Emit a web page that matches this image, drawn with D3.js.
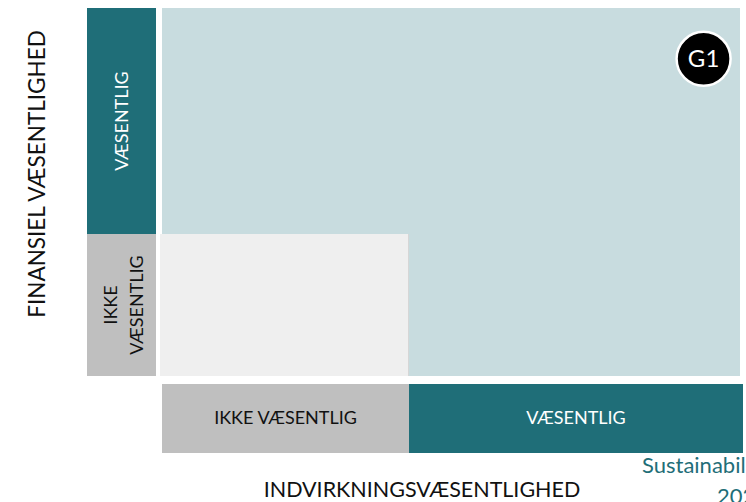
<!DOCTYPE html>
<html>
<head>
<meta charset="utf-8">
<script src="https://cdn.jsdelivr.net/npm/d3@7"></script>
<style>
  body { margin: 0; background: #fff; overflow: hidden; }
  svg { display: block; font-family: Lato, "Open Sans", sans-serif; }
</style>
</head>
<body>
<script>
// Double materiality matrix - D3.js

const levels = ["IKKE VÆSENTLIG", "VÆSENTLIG"];
const levelLines = [["IKKE", "VÆSENTLIG"], ["VÆSENTLIG"]];
const cellFill = [["#efefef", "#c8dcdf"], ["#c8dcdf", "#c8dcdf"]]; // [impact][financial]
const topics = ["G1"];
const impactScore = [1.89];
const financialScore = [1.775];

const width = 746;
const height = 502;

const svg = d3
  .select("body")
  .append("svg")
  .attr("width", width)
  .attr("height", height);

const colors = { teal: "#1f6e78", grey: "#bfbfbf" };

// piecewise scales: 0..1 = ikke væsentlig, 1..2 = væsentlig
const x = d3.scaleLinear().domain([0, 1, 2]).range([160, 409, 740]);
const y = d3.scaleLinear().domain([0, 1, 2]).range([376, 234, 8]);

// quadrant cells
const cells = [];
levels.forEach((_, i) => levels.forEach((_, j) => cells.push({ i, j })));

svg
  .selectAll("rect.cell")
  .data(cells)
  .enter()
  .append("rect")
  .attr("class", "cell")
  .attr("x", (d) => x(d.i))
  .attr("y", (d) => y(d.j + 1))
  .attr("width", (d) => x(d.i + 1) - x(d.i))
  .attr("height", (d) => y(d.j) - y(d.j + 1))
  .attr("fill", (d) => cellFill[d.i][d.j]);

// subtle edge on the low/low cell
svg
  .append("line")
  .attr("x1", x(1) - 0.5)
  .attr("x2", x(1) - 0.5)
  .attr("y1", y(1))
  .attr("y2", y(0))
  .attr("stroke", "#d6d6d6")
  .attr("stroke-width", 1);

// gap between left bar and top cells
svg
  .append("rect")
  .attr("x", 156)
  .attr("y", y(2))
  .attr("width", 6)
  .attr("height", y(1) - y(2))
  .attr("fill", "#fff");

// left header bar (financial)
const left = svg.append("g");
left
  .selectAll("rect")
  .data(levels)
  .enter()
  .append("rect")
  .attr("x", 87)
  .attr("y", (d, i) => y(i + 1))
  .attr("width", 69)
  .attr("height", (d, i) => y(i) - y(i + 1))
  .attr("fill", (d, i) => (i ? colors.teal : colors.grey));

left
  .selectAll("text")
  .data(levels)
  .enter()
  .append("text")
  .attr("transform", (d, i) => `translate(122,${(y(i) + y(i + 1)) / 2}) rotate(-90)`)
  .attr("text-anchor", "middle")
  .attr("font-size", "18px")
  .attr("fill", (d, i) => (i ? "#fff" : "#111"))
  .each(function (d, i) {
    const lines = levelLines[i];
    lines.forEach((t, k) => {
      d3.select(this)
        .append("tspan")
        .attr("x", 0)
        .attr("y", lines.length > 1 ? -5 + k * 26 : 6)
        .text(t);
    });
  });

// bottom header bar (impact)
const bottom = svg.append("g");
bottom
  .selectAll("rect")
  .data(levels)
  .enter()
  .append("rect")
  .attr("x", (d, i) => (i ? x(i) : 162))
  .attr("y", 384)
  .attr("width", (d, i) => (i ? 743 - x(i) : x(1) - 162))
  .attr("height", 69)
  .attr("fill", (d, i) => (i ? colors.teal : colors.grey));

bottom
  .selectAll("text")
  .data(levels)
  .enter()
  .append("text")
  .attr("x", (d, i) => (i ? (x(1) + 743) / 2 : (162 + x(1)) / 2))
  .attr("y", 424)
  .attr("text-anchor", "middle")
  .attr("font-size", "18px")
  .attr("fill", (d, i) => (i ? "#fff" : "#111"))
  .text((d) => d);

// axis titles
svg
  .append("text")
  .attr("transform", `translate(45,174) rotate(-90)`)
  .attr("text-anchor", "middle")
  .attr("font-size", "22.5px")
  .attr("fill", "#111")
  .text("FINANSIEL VÆSENTLIGHED");

svg
  .append("text")
  .attr("x", 422)
  .attr("y", 497)
  .attr("text-anchor", "middle")
  .attr("font-size", "21.5px")
  .attr("fill", "#111")
  .text("INDVIRKNINGSVÆSENTLIGHED");

// footer (runs off the page edge, as in the source slide)
svg
  .append("text")
  .attr("x", 642)
  .attr("y", 473)
  .attr("font-size", "22px")
  .attr("fill", colors.teal)
  .text("Sustainability");

svg
  .append("text")
  .attr("x", 717)
  .attr("y", 504)
  .attr("font-size", "22px")
  .attr("fill", colors.teal)
  .text("2024");

// topic markers
const pts = topics.map((t, k) => ({ t, ix: impactScore[k], fy: financialScore[k] }));

const marker = svg
  .selectAll("g.topic")
  .data(pts)
  .enter()
  .append("g")
  .attr("class", "topic")
  .attr("transform", (d) => `translate(${x(d.ix)},${y(d.fy)})`);

marker
  .append("circle")
  .attr("r", 27)
  .attr("fill", "#000")
  .attr("stroke", "#fff")
  .attr("stroke-width", 2.5);

marker
  .append("text")
  .attr("text-anchor", "middle")
  .attr("dy", "0.36em")
  .attr("font-size", "24px")
  .attr("fill", "#fff")
  .text((d) => d.t);
</script>
</body>
</html>
